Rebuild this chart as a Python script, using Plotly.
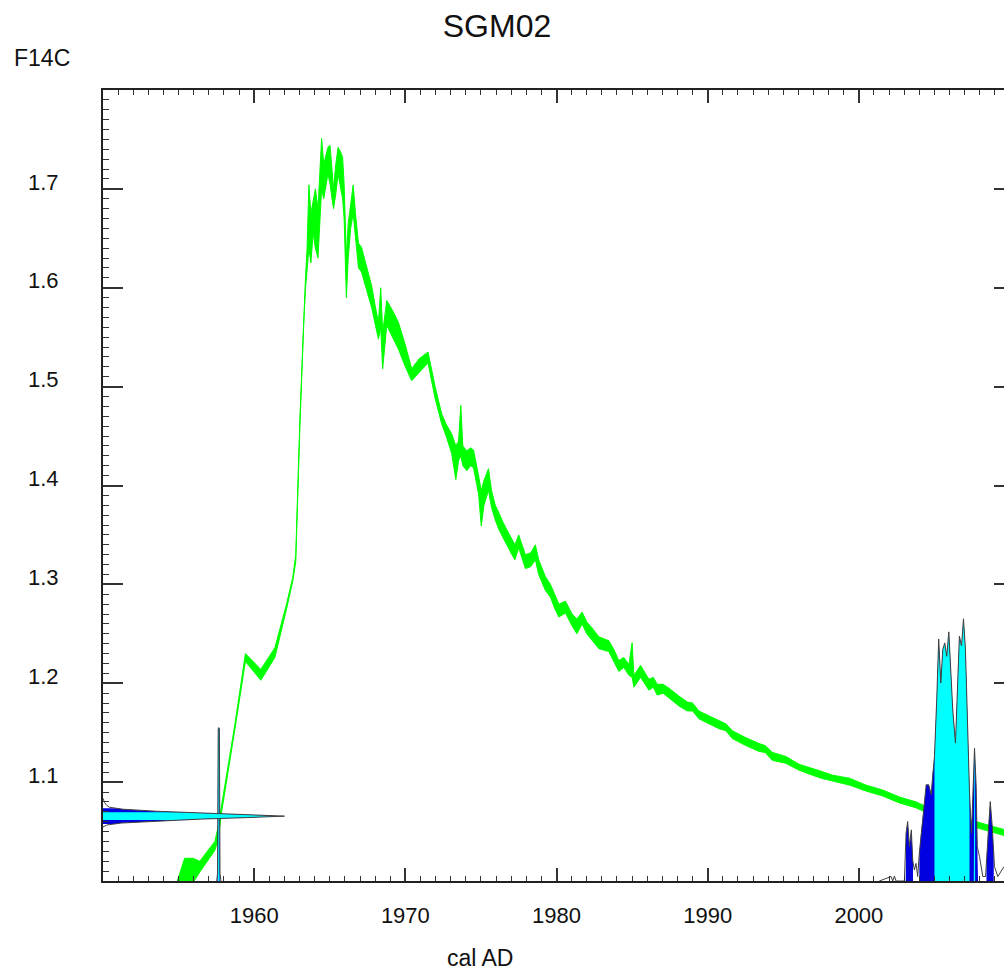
import numpy as np
import plotly.graph_objects as go

# ---------------- data ----------------
# calibration curve band (cal AD, lower / upper F14C)
curve_year = [1954.6, 1955.4, 1955.95, 1956.4, 1957.4, 1957.62, 1957.85, 1958.72, 1959.42, 1960.44,
              1961.37, 1962.14, 1962.55, 1962.75, 1963.03, 1963.28, 1963.40, 1963.50, 1963.62, 1963.75,
              1963.90, 1964.05, 1964.22, 1964.38, 1964.46, 1964.60, 1964.75, 1964.88, 1965.02, 1965.15,
              1965.25, 1965.40, 1965.55, 1965.70, 1965.85, 1965.95, 1966.05, 1966.10, 1966.22, 1966.38,
              1966.55, 1966.70, 1966.90, 1967.10, 1967.45, 1967.77, 1968.00, 1968.22, 1968.37, 1968.50,
              1968.77, 1969.15, 1969.54, 1970.00, 1970.42, 1970.90, 1971.50, 1971.97, 1972.41, 1972.70,
              1973.07, 1973.34, 1973.52, 1973.67, 1973.80, 1974.07, 1974.30, 1974.51, 1974.84, 1975.02,
              1975.20, 1975.50, 1975.70, 1975.95, 1976.20, 1976.39, 1976.72, 1977.05, 1977.25, 1977.50,
              1977.94, 1978.30, 1978.60, 1978.82, 1979.26, 1979.60, 1979.90, 1980.15, 1980.59, 1981.03,
              1981.35, 1981.69, 1982.00, 1982.35, 1982.80, 1983.46, 1983.80, 1984.12, 1984.45, 1984.79,
              1985.00, 1985.12, 1985.56, 1986.11, 1986.40, 1986.66, 1987.05, 1987.44, 1988.10, 1988.65,
              1989.00, 1989.42, 1990.09, 1990.75, 1991.20, 1991.63, 1992.52, 1993.40, 1993.80, 1994.28,
              1995.17, 1996.05, 1996.93, 1997.50, 1998.26, 1999.37, 2000.47, 2001.57, 2002.68, 2003.78,
              2004.50, 2005.50, 2006.50, 2007.54, 2008.50, 2009.60]
curve_lo = [0.975, 0.992, 0.998, 1.009, 1.031, 1.042, 1.070, 1.153, 1.222, 1.203,
            1.226, 1.275, 1.303, 1.323, 1.462, 1.565, 1.600, 1.618, 1.640, 1.625,
            1.655, 1.640, 1.630, 1.680, 1.700, 1.690, 1.705, 1.715, 1.705, 1.690,
            1.680, 1.695, 1.715, 1.705, 1.690, 1.670, 1.620, 1.590, 1.630, 1.660,
            1.675, 1.650, 1.620, 1.616, 1.597, 1.580, 1.565, 1.548, 1.560, 1.518,
            1.562, 1.550, 1.538, 1.520, 1.506, 1.514, 1.524, 1.488, 1.462, 1.450,
            1.432, 1.406, 1.425, 1.430, 1.420, 1.415, 1.420, 1.418, 1.392, 1.359,
            1.380, 1.395, 1.378, 1.365, 1.355, 1.350, 1.340, 1.330, 1.325, 1.337,
            1.316, 1.318, 1.325, 1.310, 1.294, 1.287, 1.275, 1.267, 1.271, 1.258,
            1.250, 1.260, 1.250, 1.244, 1.235, 1.232, 1.222, 1.212, 1.216, 1.208,
            1.206, 1.196, 1.206, 1.193, 1.196, 1.188, 1.190, 1.185, 1.177, 1.172,
            1.172, 1.164, 1.159, 1.154, 1.152, 1.144, 1.137, 1.131, 1.130, 1.122,
            1.119, 1.112, 1.107, 1.104, 1.101, 1.097, 1.091, 1.086, 1.079, 1.074,
            1.069, 1.065, 1.061, 1.055, 1.051, 1.046]
curve_hi = [0.985, 1.023, 1.023, 1.020, 1.040, 1.055, 1.077, 1.158, 1.230, 1.214,
            1.236, 1.280, 1.307, 1.330, 1.470, 1.575, 1.612, 1.640, 1.704, 1.675,
            1.690, 1.700, 1.680, 1.720, 1.751, 1.725, 1.735, 1.742, 1.744, 1.720,
            1.700, 1.725, 1.742, 1.738, 1.732, 1.705, 1.650, 1.630, 1.665, 1.685,
            1.704, 1.675, 1.645, 1.641, 1.622, 1.602, 1.582, 1.565, 1.600, 1.555,
            1.587, 1.577, 1.565, 1.542, 1.518, 1.528, 1.535, 1.500, 1.472, 1.462,
            1.452, 1.440, 1.445, 1.481, 1.440, 1.435, 1.438, 1.436, 1.410, 1.395,
            1.405, 1.417, 1.395, 1.380, 1.372, 1.365, 1.355, 1.345, 1.340, 1.350,
            1.330, 1.332, 1.340, 1.325, 1.308, 1.300, 1.290, 1.280, 1.283, 1.270,
            1.265, 1.272, 1.262, 1.256, 1.247, 1.243, 1.234, 1.223, 1.226, 1.219,
            1.241, 1.208, 1.218, 1.204, 1.206, 1.199, 1.199, 1.195, 1.187, 1.181,
            1.180, 1.172, 1.167, 1.162, 1.159, 1.152, 1.145, 1.139, 1.137, 1.130,
            1.126, 1.118, 1.114, 1.111, 1.107, 1.104, 1.097, 1.092, 1.085, 1.080,
            1.075, 1.071, 1.067, 1.061, 1.057, 1.052]

# sample measurement (F14C) and its density profile (offset from mean, relative density)
sample_f14c = 1.0656
sample_sigma = 0.004
meas_offset = [-0.011, -0.009, -0.007, -0.005, -0.003, -0.0015, 0.0, 0.0015, 0.003, 0.005,
               0.007, 0.009, 0.011, 0.014, 0.018]
meas_density = [0.0, 0.02, 0.10, 0.29, 0.54, 0.79, 1.0, 0.79, 0.54, 0.29,
                0.11, 0.035, 0.02, 0.008, 0.0]

# calibrated probability distribution (cal AD, relative probability)
cal_year = [1957.52, 1957.58, 1957.62, 1957.66, 1957.70, 1957.74, 1957.80,
            2001.35, 2002.13, 2002.24, 2002.35, 2002.46, 2003.01, 2003.12, 2003.23, 2003.34, 2003.47,
            2003.56, 2003.67, 2003.78, 2003.89, 2004.00, 2004.11, 2004.27, 2004.45, 2004.62, 2004.78,
            2004.88, 2005.00, 2005.15, 2005.28, 2005.42, 2005.55, 2005.68, 2005.81, 2005.95, 2006.08,
            2006.21, 2006.39, 2006.52, 2006.65, 2006.79, 2006.92, 2007.05, 2007.18, 2007.32, 2007.45,
            2007.54, 2007.65, 2007.76, 2007.83, 2007.98, 2008.09, 2008.20, 2008.38, 2008.55, 2008.69,
            2008.82, 2008.97, 2009.19, 2009.42, 2009.60]
cal_prob = [0.0, 0.03, 0.58, 0.585, 0.58, 0.03, 0.0,
            0.0, 0.017, 0.0, 0.019, 0.0, 0.0, 0.182, 0.227, 0.131, 0.195,
            0.080, 0.042, 0.067, 0.017, 0.106, 0.182, 0.259, 0.367, 0.367, 0.33,
            0.411, 0.475, 0.692, 0.923, 0.755, 0.883, 0.908, 0.857, 0.950, 0.819,
            0.653, 0.526, 0.755, 0.934, 0.896, 1.000, 0.883, 0.565, 0.335, 0.182,
            0.360, 0.507, 0.360, 0.131, 0.093, 0.055, 0.017, 0.017, 0.182, 0.303,
            0.210, 0.055, 0.017, 0.036, 0.055]
range_2sigma = [(1957.57, 1957.75), (2003.10, 2003.58), (2004.00, 2007.88), (2008.44, 2008.92)]
range_1sigma = [(1957.61, 1957.71), (2005.00, 2007.32), (2007.60, 2007.69)]

# ---------------- styles ----------------
X_MIN, X_MAX = 1950, 2009.6
Y_MIN, Y_MAX = 1.0, 1.8
CAL_SCALE = 0.2652      # F14C units for relative probability 1
MEAS_SCALE = 12.0       # years for relative density 1
GREEN = "#00ff00"
DARK_BLUE = "#0000e0"
CYAN = "#00ffff"
FONT = "Liberation Sans, Arial, sans-serif"
FIG_W, FIG_H = 1004, 971
ML, MT, MB = 103, 90, 90
PW, PH = FIG_W - ML, FIG_H - MT - MB

cal_year_a = np.array(cal_year)
cal_h_a = Y_MIN + np.array(cal_prob) * CAL_SCALE

fig = go.Figure()

# calibration curve band (base axis, drawn below the distributions)
fig.add_trace(go.Scatter(
    x=curve_year + curve_year[::-1], y=curve_hi + curve_lo[::-1],
    fill="toself", fillcolor=GREEN, mode="lines",
    line=dict(color=GREEN, width=1), hoverinfo="skip", showlegend=False))


def cal_segment(a, b):
    inside = (cal_year_a > a) & (cal_year_a < b)
    xs = [a] + list(cal_year_a[inside]) + [b]
    ys = [np.interp(a, cal_year_a, cal_h_a)] + list(cal_h_a[inside]) + [np.interp(b, cal_year_a, cal_h_a)]
    return [a] + xs + [b], [Y_MIN] + ys + [Y_MIN]


for a, b in range_2sigma:
    xs, ys = cal_segment(a, b)
    fig.add_trace(go.Scatter(x=xs, y=ys, fill="toself", fillcolor=DARK_BLUE, mode="lines",
                             line=dict(width=0), hoverinfo="skip", showlegend=False, yaxis="y2"))
for a, b in range_1sigma:
    xs, ys = cal_segment(a, b)
    fig.add_trace(go.Scatter(x=xs, y=ys, fill="toself", fillcolor=CYAN, mode="lines",
                             line=dict(width=0), hoverinfo="skip", showlegend=False, yaxis="y2"))

# outline of calibrated distribution (two clusters)
left = cal_year_a < 1980
for mask in (left, ~left):
    fig.add_trace(go.Scatter(x=cal_year_a[mask], y=cal_h_a[mask], mode="lines",
                             line=dict(color="#404040", width=1), hoverinfo="skip",
                             showlegend=False, yaxis="y2"))

# measurement density (sideways on the y axis)
meas_f = sample_f14c + np.array(meas_offset)
meas_x = X_MIN + np.array(meas_density) * MEAS_SCALE


def meas_segment(k):
    lo_f, hi_f = sample_f14c - k * sample_sigma, sample_f14c + k * sample_sigma
    inside = (meas_f > lo_f) & (meas_f < hi_f)
    fs = [lo_f] + list(meas_f[inside]) + [hi_f]
    xs = [np.interp(lo_f, meas_f, meas_x)] + list(meas_x[inside]) + [np.interp(hi_f, meas_f, meas_x)]
    return [X_MIN] + xs + [X_MIN], [lo_f] + fs + [hi_f]


for k, col in ((2, DARK_BLUE), (1, CYAN)):
    xs, ys = meas_segment(k)
    fig.add_trace(go.Scatter(x=xs, y=ys, fill="toself", fillcolor=col, mode="lines",
                             line=dict(width=0), hoverinfo="skip", showlegend=False, yaxis="y2"))
fig.add_trace(go.Scatter(x=meas_x, y=meas_f, mode="lines", line=dict(color="#404040", width=1),
                         hoverinfo="skip", showlegend=False, yaxis="y2"))

# ---------------- layout ----------------
tick_col = "#333333"
yt = [1.1, 1.2, 1.3, 1.4, 1.5, 1.6, 1.7]
fig.update_layout(
    width=FIG_W, height=FIG_H,
    margin=dict(l=ML, r=0, t=MT, b=MB, pad=0),
    paper_bgcolor="white", plot_bgcolor="white",
    font=dict(family=FONT, color="#111111"),
    title=dict(text="SGM02", x=497 / FIG_W, xref="container",
               y=1 - 26 / FIG_H, yref="container",
               xanchor="center", yanchor="middle", font=dict(size=32, family=FONT, color="#111111")),
    xaxis=dict(range=[X_MIN, X_MAX], tickvals=[1960, 1970, 1980, 1990, 2000],
               ticks="inside", ticklen=13, tickwidth=1.5, tickcolor=tick_col,
               showline=True, linecolor="#222222", linewidth=2, mirror="ticks",
               showgrid=False, zeroline=False, tickfont=dict(size=22),
               ticklabelstandoff=14,
               minor=dict(ticks="inside", ticklen=5, tickwidth=1.2, dtick=1, tick0=1950,
                          tickcolor=tick_col, showgrid=False)),
    yaxis=dict(range=[Y_MIN, Y_MAX], tickvals=yt, tickformat=".1f",
               ticks="inside", ticklen=20, tickwidth=1.5, tickcolor=tick_col,
               showline=True, linecolor="#222222", linewidth=2, mirror=False,
               showgrid=False, zeroline=False, tickfont=dict(size=22),
               ticklabelstandoff=38, ticklabelshift=-7,
               minor=dict(ticks="inside", ticklen=6, tickwidth=1.2, dtick=0.01, tick0=1.0,
                          tickcolor=tick_col, showgrid=False)),
    yaxis2=dict(range=[Y_MIN, Y_MAX], overlaying="y", side="right", anchor="x",
                tickvals=yt, ticks="inside", ticklen=10,
                tickwidth=1.5, tickcolor=tick_col, showticklabels=False, showline=False,
                showgrid=False, zeroline=False),
    annotations=[
        dict(text="F14C", xref="paper", yref="paper", x=(12 - ML) / PW, y=(FIG_H - MB - 58) / PH,
             xanchor="left", yanchor="middle", showarrow=False, font=dict(size=23)),
        dict(text="cal AD", xref="paper", yref="paper", x=(480 - ML) / PW, y=(FIG_H - MB - 958) / PH,
             xanchor="center", yanchor="middle", showarrow=False, font=dict(size=23)),
    ],
)

fig.write_html(
    "out.html",
    config={"displayModeBar": False},
    post_script="document.body.style.margin='0';document.body.style.overflow='hidden';",
)
